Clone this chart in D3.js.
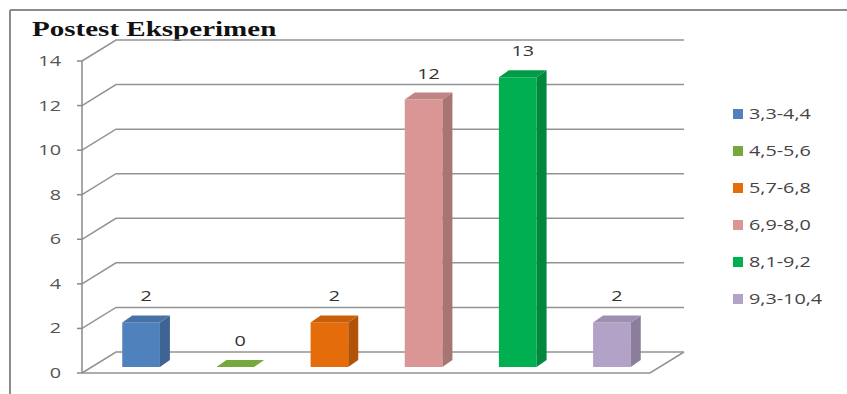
<!DOCTYPE html>
<html>
<head>
<meta charset="utf-8">
<script src="https://cdn.jsdelivr.net/npm/d3@7/dist/d3.min.js"></script>
<style>
  html, body { margin: 0; padding: 0; background: #fff; }
  svg { display: block; }
</style>
</head>
<body>
<svg id="chart" width="847" height="394"></svg>
<script>
// ---- data ----
const title = "Postest Eksperimen";
const categories = ["3,3-4,4", "4,5-5,6", "5,7-6,8", "6,9-8,0", "8,1-9,2", "9,3-10,4"];
const values = [2, 0, 2, 12, 13, 2];
const colors = ["#4F81BD", "#77A83C", "#E46C0A", "#D99694", "#00B050", "#B3A2C7"];
const yTicks = [0, 2, 4, 6, 8, 10, 12, 14];

// ---- layout ----
const W = 847, H = 394;
const SX = 1.32;               // horizontal stretch of the original picture
const svg = d3.select("#chart");

const y = d3.scaleLinear().domain([0, 14]).range([373, 61]);
const x = d3.scaleBand().domain(categories).range([94, 659]).paddingInner(0.6).paddingOuter(0.3);

const depthX = 34, depthY = -21;     // wall depth
const barShiftY = -6;                // bars sit slightly inside the floor
const bdx = 10, bdy = -7;            // bar depth
const axisX = 82, floorRight = 650;

function stretchedText(g, tx, ty, txt) {
  return g.append("text")
    .attr("transform", `translate(${tx},${ty}) scale(${SX},1)`)
    .text(txt);
}

// frame
svg.append("line").attr("x1", 10).attr("y1", 10).attr("x2", W).attr("y2", 10)
  .attr("stroke", "#8c8c8c").attr("stroke-width", 2);
svg.append("line").attr("x1", 10).attr("y1", 10).attr("x2", 10).attr("y2", H)
  .attr("stroke", "#8c8c8c").attr("stroke-width", 2);

// title
svg.append("text")
  .attr("transform", `translate(32,36) scale(${SX},1)`)
  .attr("font-family", "'Liberation Serif', 'Times New Roman', serif")
  .attr("font-weight", "bold").attr("font-size", 22).attr("fill", "#111")
  .text(title);

// gridlines (side wall diagonals + back wall lines)
const grid = svg.append("g").attr("stroke", "#939393").attr("stroke-width", 1.5).attr("fill", "none");
yTicks.forEach(t => {
  const yy = y(t);
  grid.append("path")
    .attr("d", `M${axisX},${yy} L${axisX + depthX},${yy + depthY} L${floorRight + depthX},${yy + depthY}`);
});
// floor
grid.append("path")
  .attr("d", `M${axisX},${y(0)} L${floorRight},${y(0)} L${floorRight + depthX},${y(0) + depthY}`);

// y axis
const axisG = svg.append("g").attr("transform", `translate(${axisX},0)`);
axisG.append("line").attr("x1", 0).attr("x2", 0).attr("y1", y(14)).attr("y2", y(0))
  .attr("stroke", "#8a8a8a").attr("stroke-width", 1.5);
yTicks.forEach(t => {
  axisG.append("line").attr("x1", -5).attr("x2", 0).attr("y1", y(t)).attr("y2", y(t))
    .attr("stroke", "#8a8a8a").attr("stroke-width", 1.5);
});
const tickLabels = svg.append("g")
  .attr("font-family", "'Open Sans', sans-serif").attr("font-size", 15)
  .attr("fill", "#555").attr("text-anchor", "end");
yTicks.forEach(t => {
  stretchedText(tickLabels, 61, y(t) + 5, String(t));
});

// bars (3D)
const ybar = v => y(v) + barShiftY;
const bars = svg.append("g");
categories.forEach((c, i) => {
  const v = values[i];
  const x0 = x(c), bw = x.bandwidth();
  const top = ybar(v), bot = ybar(0);
  const base = d3.color(colors[i]);
  const g = bars.append("g");
  if (v > 0) {
    // front
    g.append("rect").attr("x", x0).attr("y", top).attr("width", bw).attr("height", bot - top)
      .attr("fill", base.formatHex());
    // side
    g.append("path")
      .attr("d", `M${x0 + bw},${top} L${x0 + bw + bdx},${top + bdy} L${x0 + bw + bdx},${bot + bdy} L${x0 + bw},${bot} Z`)
      .attr("fill", base.darker(0.7).formatHex());
  }
  // top
  g.append("path")
    .attr("d", `M${x0},${top} L${x0 + bdx},${top + bdy} L${x0 + bw + bdx},${top + bdy} L${x0 + bw},${top} Z`)
    .attr("fill", v > 0 ? base.darker(0.35).formatHex() : base.formatHex());
});

// value labels
const valLabels = svg.append("g")
  .attr("font-family", "'Open Sans', sans-serif").attr("font-size", 15)
  .attr("fill", "#333").attr("text-anchor", "middle");
categories.forEach((c, i) => {
  const cx = x(c) + x.bandwidth() / 2 + bdx / 2;
  stretchedText(valLabels, cx, ybar(values[i]) + bdy - 14, String(values[i]));
});

// legend
const legend = svg.append("g").attr("font-family", "'Open Sans', sans-serif")
  .attr("font-size", 15).attr("fill", "#444");
const legY = d3.scalePoint().domain(categories).range([114, 299]);
categories.forEach((c, i) => {
  const yy = legY(c);
  legend.append("rect").attr("x", 733).attr("y", yy - 5).attr("width", 10).attr("height", 10)
    .attr("fill", colors[i]);
  stretchedText(legend, 749, yy + 5, c);
});
</script>
</body>
</html>
